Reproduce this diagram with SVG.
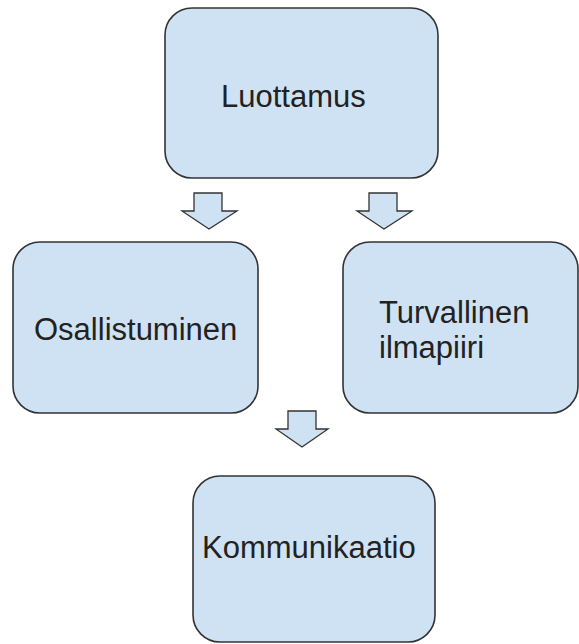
<svg xmlns="http://www.w3.org/2000/svg" width="579" height="644" viewBox="0 0 579 644">
<style>
.box{fill:#cfe2f3;stroke:#333;stroke-width:1.6}
.arr{fill:#cfe2f3;stroke:#333;stroke-width:1.3;stroke-linejoin:miter}
.t{font-family:"Liberation Sans",Arial,sans-serif;font-size:31px;fill:#222}
</style>
<rect width="579" height="644" fill="#fff"/>
<g id="luottamus">
<rect class="box" x="165" y="8" width="273" height="170" rx="27"/>
<text class="t" x="221" y="107">Luottamus</text>
</g>
<g id="osallistuminen">
<rect class="box" x="13" y="242" width="245" height="171" rx="27"/>
<text class="t" x="34" y="340">Osallistuminen</text>
</g>
<g id="turvallinen">
<rect class="box" x="343" y="242" width="235" height="171" rx="27"/>
<text class="t" x="379" y="323">Turvallinen</text>
<text class="t" x="379" y="358">ilmapiiri</text>
</g>
<g id="kommunikaatio">
<rect class="box" x="193" y="476" width="242" height="166" rx="27"/>
<text class="t" x="202" y="558">Kommunikaatio</text>
</g>
<g id="connectors">
<path class="arr" d="M194,193 H222 V211 H237 L209,229 L182,211 H194 Z"/>
<path class="arr" d="M369,193 H397 V211 H412 L384,229 L357,211 H369 Z"/>
<path class="arr" d="M288,411 H316 V429 H328 L302,447 L276,429 H288 Z"/>
</g>
</svg>
